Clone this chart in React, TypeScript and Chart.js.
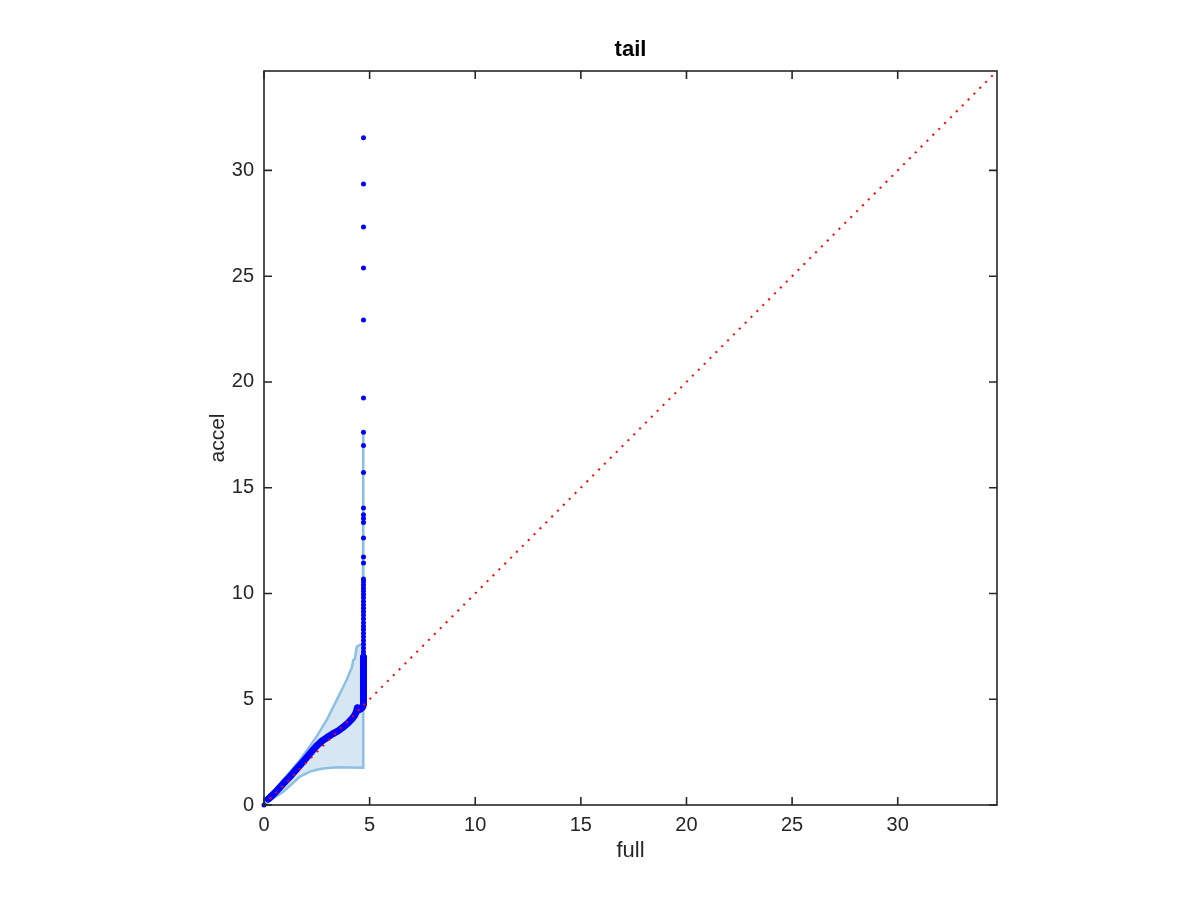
import React, { useEffect, useRef } from "react";
import { Chart, registerables } from "chart.js";

Chart.register(...registerables);

// ---- data ----
const axisMax = 34.7;
const xTickValues = [0, 5, 10, 15, 20, 25, 30];
const yTickValues = [0, 5, 10, 15, 20, 25, 30];

// diagonal reference line (full == accel)
const diagX = [0, 34.7];
const diagY = [0, 34.7];

// dense blue points along the curve and the bottom of the tail column
const curveX = [0.2, 0.35, 0.5, 0.75, 1.0, 1.25, 1.5, 1.75, 2.0, 2.25, 2.5, 2.75, 3.0, 3.25, 3.5, 3.75, 4.0, 4.15, 4.3, 4.38, 4.42, 4.48, 4.58, 4.66, 4.71, 4.71];
const curveY = [0.28, 0.42, 0.56, 0.83, 1.1, 1.37, 1.65, 1.93, 2.22, 2.52, 2.8, 3.03, 3.2, 3.36, 3.5, 3.68, 3.9, 4.05, 4.25, 4.42, 4.6, 4.5, 4.55, 4.62, 4.75, 7.0];

// isolated origin point
const originX = [0];
const originY = [0];

// sparse points up the tail at full ≈ 4.71
const tailX = 4.71;
const tailY = [31.54, 29.36, 27.33, 25.39, 22.93, 19.24, 17.62, 17.0, 15.72, 14.04, 13.72, 13.55, 13.36, 12.62, 11.72, 11.44, 10.68, 10.55, 10.4, 10.25, 10.1, 9.95, 9.8, 9.62, 9.45, 9.3, 9.15, 8.98, 8.8, 8.62, 8.45, 8.3, 8.12, 7.95, 7.78, 7.6, 7.42, 7.25, 7.1];

// shaded band: upper envelope (left to right) and lower envelope (left to right)
const upperX = [0, 0.45, 0.91, 1.3, 1.7, 2.1, 2.49, 2.97, 3.44, 3.91, 4.07, 4.15, 4.23, 4.3, 4.39, 4.55, 4.68, 4.7];
const upperY = [0, 0.6, 1.18, 1.65, 2.13, 2.68, 3.23, 4.02, 4.96, 5.91, 6.3, 6.47, 6.86, 6.9, 7.48, 7.57, 7.57, 17.7];
const lowerX = [0, 0.45, 0.91, 1.3, 1.7, 2.18, 2.5, 2.81, 3.44, 4.0, 4.7];
const lowerY = [0, 0.32, 0.63, 0.98, 1.34, 1.58, 1.67, 1.73, 1.78, 1.77, 1.76];

const FONT = '"Liberation Sans", Arial, Helvetica, sans-serif';
const TEXT = "#262626";

const toPts = (xs: number[], ys: number[]) => xs.map((x, i) => ({ x, y: ys[i] }));

const framePlugin = {
  id: "frameBox",
  afterDatasetsDraw(chart: any) {
    const { ctx, chartArea, scales } = chart;
    const { left, right, top, bottom } = chartArea;
    const tl = 8;
    ctx.save();
    ctx.strokeStyle = TEXT;
    ctx.lineWidth = 1.6;
    ctx.strokeRect(left, top, right - left, bottom - top);
    ctx.beginPath();
    xTickValues.forEach((v) => {
      const px = scales.x.getPixelForValue(v);
      ctx.moveTo(px, bottom);
      ctx.lineTo(px, bottom - tl);
      ctx.moveTo(px, top);
      ctx.lineTo(px, top + tl);
    });
    yTickValues.forEach((v) => {
      const py = scales.y.getPixelForValue(v);
      ctx.moveTo(left, py);
      ctx.lineTo(left + tl, py);
      ctx.moveTo(right, py);
      ctx.lineTo(right - tl, py);
    });
    ctx.stroke();
    ctx.restore();
  },
};

export default function App() {
  const ref = useRef<HTMLCanvasElement | null>(null);

  useEffect(() => {
    if (!ref.current) return;
    const bandPts = [
      ...toPts(upperX, upperY),
      ...toPts(lowerX, lowerY).reverse(),
    ];
    const chart = new Chart(ref.current, {
      type: "scatter",
      data: {
        datasets: [
          {
            label: "diag",
            data: toPts(diagX, diagY),
            showLine: true,
            borderColor: "#ff0000",
            borderWidth: 2,
            borderDash: [2, 6.3],
            pointRadius: 0,
            order: 0,
            clip: false,
          } as any,
          {
            label: "curve",
            data: toPts(curveX, curveY),
            showLine: true,
            borderColor: "#0000ff",
            borderWidth: 7,
            borderJoinStyle: "round",
            borderCapStyle: "round",
            backgroundColor: "#0000ff",
            pointRadius: 3,
            pointBorderWidth: 0,
            order: 1,
            clip: false,
          } as any,
          {
            label: "origin",
            data: toPts(originX, originY),
            backgroundColor: "#0000ff",
            pointRadius: 2.5,
            pointBorderWidth: 0,
            order: 1,
            clip: false,
          } as any,
          {
            label: "tail",
            data: tailY.map((y) => ({ x: tailX, y })),
            backgroundColor: "#0000ff",
            pointRadius: 2.5,
            pointBorderWidth: 0,
            order: 1,
            clip: false,
          } as any,
          {
            label: "band",
            data: bandPts,
            showLine: true,
            borderColor: "rgb(140,192,226)",
            borderWidth: 2.5,
            backgroundColor: "rgb(214,231,243)",
            fill: "shape",
            pointRadius: 0,
            order: 3,
          } as any,
        ],
      },
      options: {
        responsive: false,
        animation: false,
        events: [],
        layout: { padding: { left: 0, right: 203, top: 0, bottom: 0 } },
        plugins: {
          legend: { display: false },
          tooltip: { enabled: false },
          title: {
            display: true,
            text: "tail",
            fullSize: false,
            color: "#000",
            font: { family: FONT, size: 22, weight: "bold" },
            padding: { top: 37, bottom: 7.6 },
          },
        },
        scales: {
          x: {
            type: "linear",
            position: "bottom",
            min: 0,
            max: axisMax,
            grid: { display: false, drawTicks: false },
            border: { display: false },
            afterBuildTicks: (s: any) => {
              s.ticks = xTickValues.map((v) => ({ value: v }));
            },
            afterFit: (s: any) => {
              s.height = 95;
            },
            ticks: {
              color: TEXT,
              font: { family: FONT, size: 20 },
              padding: 8,
              maxRotation: 0,
              callback: (v: any) => String(v),
            },
            title: {
              display: true,
              text: "full",
              color: TEXT,
              font: { family: FONT, size: 22 },
              padding: { top: 0, bottom: 36 },
            },
          },
          y: {
            type: "linear",
            position: "left",
            min: 0,
            max: axisMax,
            grid: { display: false, drawTicks: false },
            border: { display: false },
            afterBuildTicks: (s: any) => {
              s.ticks = yTickValues.map((v) => ({ value: v }));
            },
            afterFit: (s: any) => {
              s.width = 264;
            },
            ticks: {
              color: TEXT,
              font: { family: FONT, size: 20 },
              padding: 10,
              callback: (v: any) => String(v),
            },
            title: {
              display: true,
              text: "accel",
              color: TEXT,
              font: { family: FONT, size: 21 },
              padding: { top: 206, bottom: 0 },
            },
          },
        },
      } as any,
      plugins: [framePlugin],
    });
    return () => chart.destroy();
  }, []);

  return (
    <div style={{ position: "fixed", left: 0, top: 0, width: 1200, height: 900, background: "#fff" }}>
      <canvas ref={ref} width={1200} height={900} style={{ display: "block" }} />
    </div>
  );
}
